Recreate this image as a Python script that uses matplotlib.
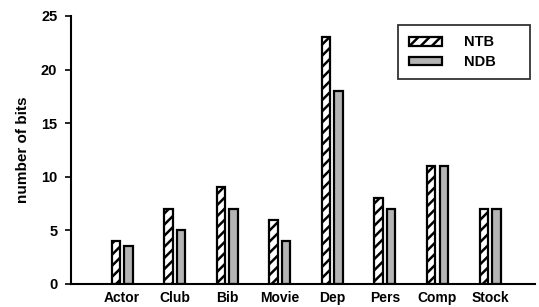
import numpy as np
import matplotlib.pyplot as plt

plt.rcParams['font.family'] = ['Liberation Sans', 'DejaVu Sans']
plt.rcParams['font.weight'] = 'bold'
plt.rcParams['hatch.linewidth'] = 1.8

categories = ["Actor", "Club", "Bib", "Movie", "Dep", "Pers", "Comp", "Stock"]
ntb = [4, 7, 9, 6, 23, 8, 11, 7]
ndb = [3.5, 5, 7, 4, 18, 7, 11, 7]

fig = plt.figure(figsize=(5.39, 3.07), dpi=100)
ax = fig.add_axes([0.132, 0.075, 0.861, 0.873])

x = np.arange(len(categories))
w = 0.16
ax.bar(x - 0.12, ntb, w, facecolor="white", edgecolor="black", hatch="///",
       linewidth=1.6, label="NTB")
ax.bar(x + 0.12, ndb, w, facecolor="#b4b4b4", edgecolor="black",
       linewidth=1.6, label="NDB")

ax.set_xlim(-0.97, 7.86)
ax.set_ylim(0, 25)
ax.set_yticks([0, 5, 10, 15, 20, 25])
ax.set_xticks(x)
ax.set_xticklabels(categories, fontweight="bold")
ax.tick_params(axis="x", length=0, pad=5, labelsize=10)
ax.tick_params(axis="y", length=4, width=1.2, direction="out", labelsize=10.5,
               pad=6)
for lab in ax.get_yticklabels():
    lab.set_fontweight("bold")
ax.spines["top"].set_visible(False)
ax.spines["right"].set_visible(False)
ax.spines["left"].set_linewidth(1.5)
ax.spines["bottom"].set_linewidth(1.5)
ax.set_ylabel("number of bits", fontsize=11, fontweight="bold", labelpad=8)

leg = ax.legend(loc="upper left", bbox_to_anchor=(0.705, 0, 0.2845, 0.966),
                mode="expand", prop={"size": 10.5, "weight": "bold"},
                frameon=True, fancybox=False, edgecolor="black",
                handlelength=2.3, handleheight=0.55, borderpad=0.7,
                labelspacing=0.4, handletextpad=1.5, borderaxespad=0)
leg.get_frame().set_linewidth(1.3)

fig.savefig("out.png", dpi=100)
